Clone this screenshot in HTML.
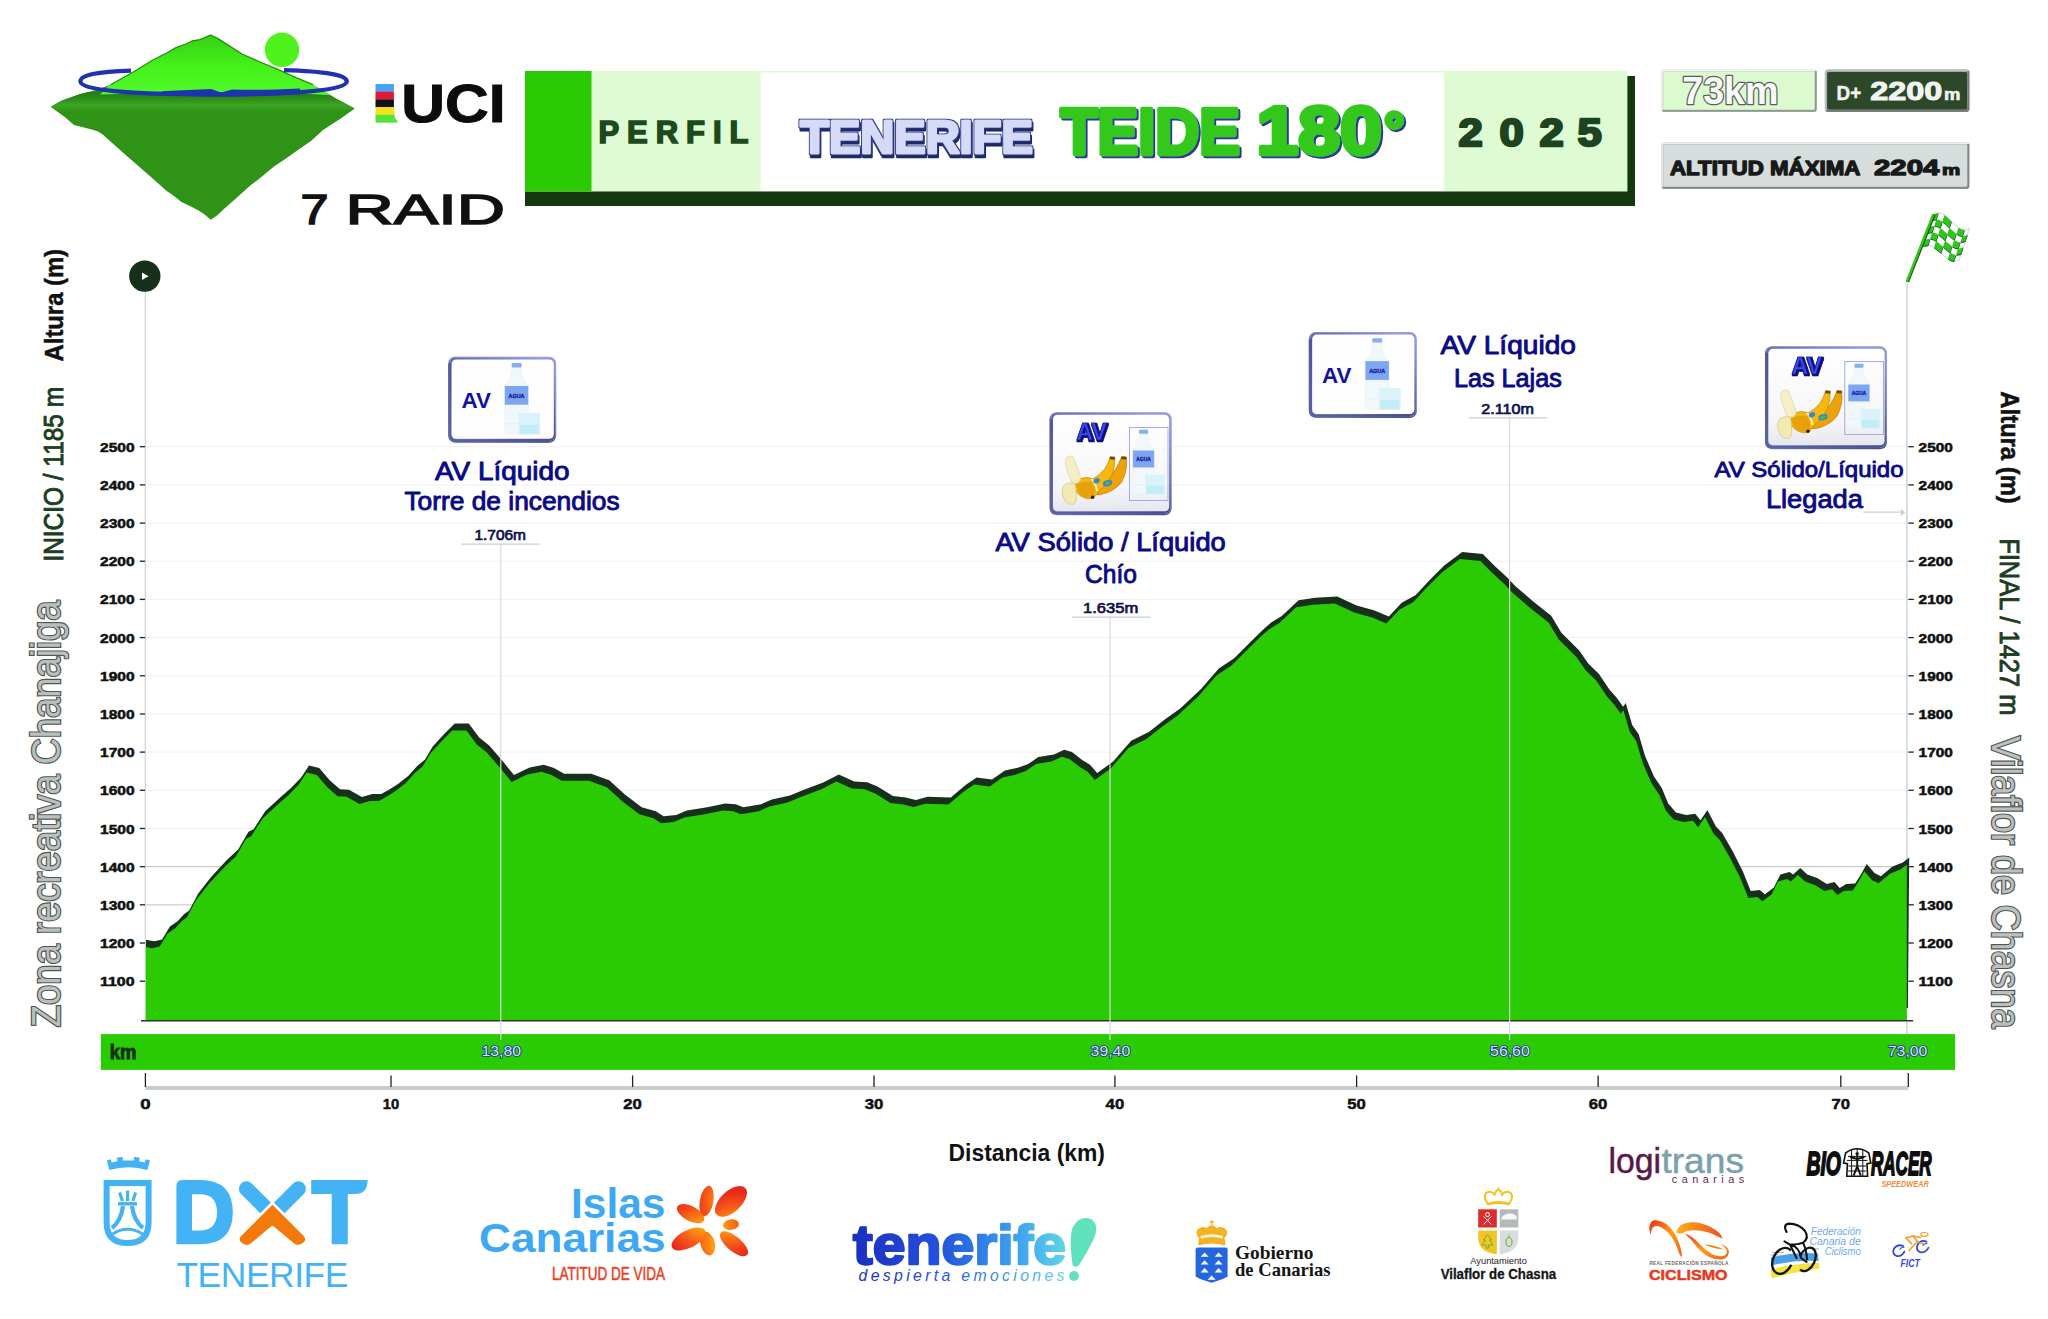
<!DOCTYPE html>
<html lang="es"><head><meta charset="utf-8"><title>Perfil Tenerife Teide 180 2025</title>
<style>
html,body{margin:0;padding:0;background:#fff;}
body{width:2048px;height:1319px;overflow:hidden;font-family:"Liberation Sans","DejaVu Sans",sans-serif;}
svg{display:block}
text{font-family:"Liberation Sans","DejaVu Sans",sans-serif;}
.ax{font-size:13.6px;font-weight:700;fill:#111;stroke:#111;stroke-width:.55px;}
.ax2{font-size:15.4px;font-weight:700;fill:#111;stroke:#111;stroke-width:.5px;}
.km{font-size:19.4px;font-weight:700;fill:#17301a;stroke:#17301a;stroke-width:.9px;}
.kmv{font-size:14px;font-weight:400;fill:#cfe2fb;stroke:#1f3a86;stroke-width:1.7px;paint-order:stroke fill;stroke-linejoin:round;}
.dist{font-size:23px;font-weight:700;fill:#111;}
.lab{font-size:25.2px;font-weight:400;fill:#0a0a84;stroke:#0a0a84;stroke-width:.9px;stroke-linejoin:round;}
.alt{font-size:14.9px;font-weight:400;fill:#10104e;stroke:#10104e;stroke-width:.7px;}
.perfil{font-size:31px;font-weight:700;fill:#1c4a1e;stroke:#1c4a1e;stroke-width:1.6px;}
.tfe text{font-size:46px;font-weight:700;}
.teide text{font-size:65px;font-weight:700;}
.y2025{font-size:38.6px;font-weight:700;fill:#1d4420;stroke:#1d4420;stroke-width:2.4px;stroke-linejoin:round;}
.b73{font-size:39px;font-weight:700;fill:#f7f9f6;stroke:#5a605c;stroke-width:2.6px;paint-order:stroke fill;stroke-linejoin:round;}
.bd1{font-size:21px;font-weight:700;fill:#f1f4f1;stroke:#f1f4f1;stroke-width:.5px;}
.bd2{font-size:25.6px;font-weight:700;fill:#f1f4f1;stroke:#f1f4f1;stroke-width:1px;}
.bd3{font-size:15.6px;font-weight:700;fill:#f1f4f1;stroke:#f1f4f1;stroke-width:.6px;}
.alm{font-size:20.2px;font-weight:700;fill:#181a19;stroke:#181a19;stroke-width:1.3px;stroke-linejoin:round;}
.alm2{font-size:22.8px;font-weight:700;fill:#181a19;stroke:#181a19;stroke-width:1.3px;stroke-linejoin:round;}
.alm3{font-size:15px;font-weight:700;fill:#181a19;stroke:#181a19;stroke-width:1.1px;}
.uci{font-size:53.6px;font-weight:700;fill:#0c0c0c;stroke:#0c0c0c;stroke-width:1px;}
.raid{font-size:43.4px;font-weight:400;fill:#111;stroke:#111;stroke-width:1.5px;}
.sAlt{font-size:26.2px;font-weight:700;fill:#111;stroke:#111;stroke-width:.5px;}
.sIni{font-size:27.6px;font-weight:400;fill:#1d3d1f;stroke:#1d3d1f;stroke-width:.9px;}
.sZona{font-size:39.8px;font-weight:400;fill:#b9c0be;stroke:#505654;stroke-width:2.4px;paint-order:stroke fill;}
.avflat{font-size:22.6px;font-weight:700;fill:#1212a0;}
.av3d{font-size:24.5px;font-weight:700;}
.gob{font-family:"Liberation Serif","DejaVu Serif",serif;font-size:17.8px;font-weight:700;fill:#151515;}
.bior{font-size:32.5px;font-weight:700;font-style:italic;fill:#0e0e0e;stroke:#0e0e0e;stroke-width:1.8px;}
.fcc{font-size:10.6px;font-style:italic;fill:#6fa8ee;}
</style></head><body>
<svg width="2048" height="1319" viewBox="0 0 2048 1319">
<rect width="2048" height="1319" fill="#fff"/>
<g id="chart">
<line x1="146" x2="1908" y1="981.2" y2="981.2" stroke="#efefef" stroke-width="1"/>
<line x1="146" x2="1908" y1="943.0" y2="943.0" stroke="#efefef" stroke-width="1"/>
<line x1="146" x2="1908" y1="904.8" y2="904.8" stroke="#cbcbcb" stroke-width="1.3"/>
<line x1="146" x2="1908" y1="866.7" y2="866.7" stroke="#cbcbcb" stroke-width="1.3"/>
<line x1="146" x2="1908" y1="828.5" y2="828.5" stroke="#efefef" stroke-width="1"/>
<line x1="146" x2="1908" y1="790.3" y2="790.3" stroke="#efefef" stroke-width="1"/>
<line x1="146" x2="1908" y1="752.1" y2="752.1" stroke="#efefef" stroke-width="1"/>
<line x1="146" x2="1908" y1="714.0" y2="714.0" stroke="#efefef" stroke-width="1"/>
<line x1="146" x2="1908" y1="675.8" y2="675.8" stroke="#efefef" stroke-width="1"/>
<line x1="146" x2="1908" y1="637.6" y2="637.6" stroke="#efefef" stroke-width="1"/>
<line x1="146" x2="1908" y1="599.4" y2="599.4" stroke="#efefef" stroke-width="1"/>
<line x1="146" x2="1908" y1="561.2" y2="561.2" stroke="#efefef" stroke-width="1"/>
<line x1="146" x2="1908" y1="523.1" y2="523.1" stroke="#efefef" stroke-width="1"/>
<line x1="146" x2="1908" y1="484.9" y2="484.9" stroke="#efefef" stroke-width="1"/>
<line x1="146" x2="1908" y1="446.7" y2="446.7" stroke="#efefef" stroke-width="1"/>
<line x1="145.3" x2="145.3" y1="290" y2="1021" stroke="#cdd3d2" stroke-width="1.2"/>
<line x1="1907" x2="1907" y1="282" y2="1041" stroke="#cdd3d6" stroke-width="1.5"/>
<path d="M146,1021 L146.0,940.1 L147.2,940.1 L154.4,941.2 L162.1,939.5 L169.9,926.5 L177.6,921.2 L184.0,914.2 L189.2,910.5 L198.2,893.5 L211.1,876.9 L226.6,860.2 L238.2,849.5 L248.5,831.8 L253.6,829.2 L265.2,811.2 L280.7,797.0 L291.0,788.0 L301.2,777.5 L309.0,765.5 L319.2,768.1 L329.7,780.2 L340.0,789.2 L349.0,789.8 L361.9,797.0 L372.2,793.9 L381.2,793.9 L388.9,789.8 L398.0,784.1 L408.2,775.9 L417.2,766.1 L425.0,759.5 L432.7,746.5 L445.6,732.5 L454.7,723.5 L468.8,723.5 L479.2,737.5 L489.2,745.5 L502.2,760.5 L514.0,775.1 L529.6,767.4 L543.7,764.8 L554.0,768.1 L564.2,773.8 L591.2,773.8 L609.2,780.2 L624.9,794.5 L641.7,807.2 L655.8,811.2 L663.6,816.2 L676.2,815.1 L686.8,810.5 L707.2,807.2 L725.2,803.5 L735.7,804.2 L743.2,807.2 L761.2,804.2 L771.8,799.5 L789.9,795.5 L805.2,789.2 L823.2,782.5 L838.8,774.5 L854.2,781.5 L867.2,782.2 L877.5,786.5 L892.9,796.1 L905.7,797.5 L916.0,800.1 L927.6,796.7 L950.8,797.5 L966.2,784.5 L976.6,777.4 L992.0,779.5 L1004.9,770.5 L1017.8,767.8 L1028.2,764.0 L1038.4,757.0 L1053.9,754.5 L1064.2,749.8 L1071.9,751.9 L1082.2,760.1 L1090.0,764.7 L1097.2,773.0 L1113.2,761.5 L1120.9,752.4 L1131.2,740.8 L1149.2,731.8 L1164.7,719.4 L1180.2,708.5 L1200.8,689.2 L1218.8,668.5 L1234.2,658.2 L1252.2,640.2 L1263.2,629.5 L1271.5,622.2 L1281.8,615.9 L1298.6,600.2 L1315.2,597.7 L1337.2,596.4 L1356.6,605.4 L1374.6,610.5 L1388.8,616.5 L1401.7,602.8 L1415.8,595.1 L1428.7,580.9 L1444.2,565.5 L1462.2,552.1 L1482.8,553.9 L1494.2,565.5 L1507.2,577.5 L1515.2,586.0 L1533.2,601.5 L1551.2,615.7 L1561.2,632.5 L1579.2,650.5 L1588.2,663.5 L1598.8,673.7 L1609.2,689.2 L1616.7,697.8 L1623.2,706.8 L1625.7,702.9 L1632.2,724.9 L1638.6,733.9 L1645.0,755.8 L1654.0,776.5 L1661.8,788.0 L1668.2,803.5 L1676.0,812.5 L1686.2,815.1 L1695.2,813.8 L1700.5,820.2 L1707.4,809.9 L1715.9,826.5 L1722.2,833.1 L1732.7,851.2 L1743.0,871.8 L1750.7,891.1 L1759.8,889.9 L1764.9,894.2 L1773.9,887.4 L1780.4,874.5 L1789.4,871.9 L1793.2,874.5 L1800.2,867.9 L1807.4,874.5 L1817.7,878.2 L1826.8,883.9 L1834.5,882.1 L1839.7,888.1 L1846.2,883.9 L1855.2,883.5 L1860.2,875.8 L1866.7,864.1 L1874.5,873.1 L1880.9,876.2 L1892.5,866.6 L1902.8,862.4 L1909.2,857.6 L1907.9,1008 L1907.9,1021 Z" fill="#17301a"/>
<path d="M145.8,1021 L145.8,947.1 L152.0,948.3 L159.7,946.5 L167.5,933.5 L175.2,928.2 L181.6,921.3 L186.8,917.5 L195.8,900.5 L208.7,883.9 L224.2,867.2 L235.8,856.5 L246.1,838.8 L251.2,836.2 L262.8,818.2 L278.3,804.0 L288.6,795.0 L298.8,784.5 L306.6,772.5 L316.8,775.1 L327.3,787.3 L337.6,796.3 L346.6,796.8 L359.5,804.0 L369.8,800.9 L378.8,800.9 L386.5,796.8 L395.6,791.1 L405.8,782.9 L414.8,773.1 L422.6,766.5 L430.3,753.5 L443.2,739.5 L452.3,730.5 L466.4,730.5 L476.8,744.5 L486.8,752.5 L499.8,767.5 L511.6,782.1 L527.2,774.4 L541.3,771.8 L551.6,775.1 L561.8,780.8 L588.8,780.8 L606.8,787.3 L622.5,801.5 L639.3,814.3 L653.4,818.2 L661.2,823.3 L673.8,822.1 L684.4,817.5 L704.8,814.3 L722.8,810.5 L733.3,811.2 L740.8,814.3 L758.8,811.2 L769.4,806.5 L787.5,802.5 L802.8,796.3 L820.8,789.5 L836.4,781.5 L851.8,788.5 L864.8,789.3 L875.1,793.5 L890.5,803.1 L903.3,804.5 L913.6,807.1 L925.2,803.8 L948.4,804.5 L963.8,791.5 L974.2,784.4 L989.6,786.5 L1002.5,777.5 L1015.4,774.8 L1025.8,771.0 L1036.0,764.0 L1051.5,761.5 L1061.8,756.8 L1069.5,758.9 L1079.8,767.1 L1087.6,771.8 L1094.8,780.0 L1110.8,768.5 L1118.5,759.4 L1128.8,747.8 L1146.8,738.8 L1162.3,726.4 L1177.8,715.5 L1198.4,696.2 L1216.4,675.5 L1231.8,665.3 L1249.8,647.3 L1260.8,636.5 L1269.1,629.2 L1279.4,622.9 L1296.2,607.3 L1312.8,604.8 L1334.8,603.4 L1354.2,612.4 L1372.2,617.5 L1386.4,623.5 L1399.3,609.8 L1413.4,602.1 L1426.3,587.9 L1441.8,572.5 L1459.8,559.1 L1480.4,560.9 L1491.8,572.5 L1504.8,584.5 L1512.8,593.0 L1530.8,608.5 L1548.8,622.8 L1558.8,639.5 L1576.8,657.5 L1585.8,670.5 L1596.4,680.8 L1606.8,696.2 L1614.3,704.8 L1620.8,713.8 L1623.3,709.9 L1629.8,731.9 L1636.2,740.9 L1642.6,762.8 L1651.6,783.5 L1659.4,795.0 L1665.8,810.5 L1673.6,819.5 L1683.8,822.1 L1692.8,820.8 L1698.1,827.2 L1705.0,816.9 L1713.5,833.5 L1719.8,840.1 L1730.3,858.2 L1740.6,878.8 L1748.3,898.1 L1757.4,896.9 L1762.5,901.3 L1771.5,894.4 L1778.0,881.5 L1787.0,878.9 L1790.8,881.5 L1797.8,874.9 L1805.0,881.5 L1815.3,885.3 L1824.4,890.9 L1832.1,889.2 L1837.3,895.1 L1843.8,890.9 L1852.8,890.5 L1857.8,882.8 L1864.3,871.2 L1872.1,880.2 L1878.5,883.3 L1890.1,873.7 L1900.4,869.4 L1906.8,864.7 L1906.8,1021 Z" fill="#2bcb04"/>
<rect x="1906.8" y="1008" width="2" height="14" fill="#fff"/>
<line x1="141" x2="1913" y1="1020.8" y2="1020.8" stroke="#2a352c" stroke-width="1.4"/>
<line x1="139.8" x2="145" y1="981.2" y2="981.2" stroke="#222" stroke-width="1.3"/>
<line x1="1908.4" x2="1913.8" y1="981.2" y2="981.2" stroke="#222" stroke-width="1.3"/>
<text x="134.6" y="986.2" text-anchor="end" class="ax" textLength="34.6" lengthAdjust="spacingAndGlyphs">1100</text>
<text x="1918.6" y="986.2" class="ax" textLength="34.2" lengthAdjust="spacingAndGlyphs">1100</text>
<line x1="139.8" x2="145" y1="943.0" y2="943.0" stroke="#222" stroke-width="1.3"/>
<line x1="1908.4" x2="1913.8" y1="943.0" y2="943.0" stroke="#222" stroke-width="1.3"/>
<text x="134.6" y="948.0" text-anchor="end" class="ax" textLength="34.6" lengthAdjust="spacingAndGlyphs">1200</text>
<text x="1918.6" y="948.0" class="ax" textLength="34.2" lengthAdjust="spacingAndGlyphs">1200</text>
<line x1="139.8" x2="145" y1="904.8" y2="904.8" stroke="#222" stroke-width="1.3"/>
<line x1="1908.4" x2="1913.8" y1="904.8" y2="904.8" stroke="#222" stroke-width="1.3"/>
<text x="134.6" y="909.8" text-anchor="end" class="ax" textLength="34.6" lengthAdjust="spacingAndGlyphs">1300</text>
<text x="1918.6" y="909.8" class="ax" textLength="34.2" lengthAdjust="spacingAndGlyphs">1300</text>
<line x1="139.8" x2="145" y1="866.7" y2="866.7" stroke="#222" stroke-width="1.3"/>
<line x1="1908.4" x2="1913.8" y1="866.7" y2="866.7" stroke="#222" stroke-width="1.3"/>
<text x="134.6" y="871.7" text-anchor="end" class="ax" textLength="34.6" lengthAdjust="spacingAndGlyphs">1400</text>
<text x="1918.6" y="871.7" class="ax" textLength="34.2" lengthAdjust="spacingAndGlyphs">1400</text>
<line x1="139.8" x2="145" y1="828.5" y2="828.5" stroke="#222" stroke-width="1.3"/>
<line x1="1908.4" x2="1913.8" y1="828.5" y2="828.5" stroke="#222" stroke-width="1.3"/>
<text x="134.6" y="833.5" text-anchor="end" class="ax" textLength="34.6" lengthAdjust="spacingAndGlyphs">1500</text>
<text x="1918.6" y="833.5" class="ax" textLength="34.2" lengthAdjust="spacingAndGlyphs">1500</text>
<line x1="139.8" x2="145" y1="790.3" y2="790.3" stroke="#222" stroke-width="1.3"/>
<line x1="1908.4" x2="1913.8" y1="790.3" y2="790.3" stroke="#222" stroke-width="1.3"/>
<text x="134.6" y="795.3" text-anchor="end" class="ax" textLength="34.6" lengthAdjust="spacingAndGlyphs">1600</text>
<text x="1918.6" y="795.3" class="ax" textLength="34.2" lengthAdjust="spacingAndGlyphs">1600</text>
<line x1="139.8" x2="145" y1="752.1" y2="752.1" stroke="#222" stroke-width="1.3"/>
<line x1="1908.4" x2="1913.8" y1="752.1" y2="752.1" stroke="#222" stroke-width="1.3"/>
<text x="134.6" y="757.1" text-anchor="end" class="ax" textLength="34.6" lengthAdjust="spacingAndGlyphs">1700</text>
<text x="1918.6" y="757.1" class="ax" textLength="34.2" lengthAdjust="spacingAndGlyphs">1700</text>
<line x1="139.8" x2="145" y1="714.0" y2="714.0" stroke="#222" stroke-width="1.3"/>
<line x1="1908.4" x2="1913.8" y1="714.0" y2="714.0" stroke="#222" stroke-width="1.3"/>
<text x="134.6" y="719.0" text-anchor="end" class="ax" textLength="34.6" lengthAdjust="spacingAndGlyphs">1800</text>
<text x="1918.6" y="719.0" class="ax" textLength="34.2" lengthAdjust="spacingAndGlyphs">1800</text>
<line x1="139.8" x2="145" y1="675.8" y2="675.8" stroke="#222" stroke-width="1.3"/>
<line x1="1908.4" x2="1913.8" y1="675.8" y2="675.8" stroke="#222" stroke-width="1.3"/>
<text x="134.6" y="680.8" text-anchor="end" class="ax" textLength="34.6" lengthAdjust="spacingAndGlyphs">1900</text>
<text x="1918.6" y="680.8" class="ax" textLength="34.2" lengthAdjust="spacingAndGlyphs">1900</text>
<line x1="139.8" x2="145" y1="637.6" y2="637.6" stroke="#222" stroke-width="1.3"/>
<line x1="1908.4" x2="1913.8" y1="637.6" y2="637.6" stroke="#222" stroke-width="1.3"/>
<text x="134.6" y="642.6" text-anchor="end" class="ax" textLength="34.6" lengthAdjust="spacingAndGlyphs">2000</text>
<text x="1918.6" y="642.6" class="ax" textLength="34.2" lengthAdjust="spacingAndGlyphs">2000</text>
<line x1="139.8" x2="145" y1="599.4" y2="599.4" stroke="#222" stroke-width="1.3"/>
<line x1="1908.4" x2="1913.8" y1="599.4" y2="599.4" stroke="#222" stroke-width="1.3"/>
<text x="134.6" y="604.4" text-anchor="end" class="ax" textLength="34.6" lengthAdjust="spacingAndGlyphs">2100</text>
<text x="1918.6" y="604.4" class="ax" textLength="34.2" lengthAdjust="spacingAndGlyphs">2100</text>
<line x1="139.8" x2="145" y1="561.2" y2="561.2" stroke="#222" stroke-width="1.3"/>
<line x1="1908.4" x2="1913.8" y1="561.2" y2="561.2" stroke="#222" stroke-width="1.3"/>
<text x="134.6" y="566.2" text-anchor="end" class="ax" textLength="34.6" lengthAdjust="spacingAndGlyphs">2200</text>
<text x="1918.6" y="566.2" class="ax" textLength="34.2" lengthAdjust="spacingAndGlyphs">2200</text>
<line x1="139.8" x2="145" y1="523.1" y2="523.1" stroke="#222" stroke-width="1.3"/>
<line x1="1908.4" x2="1913.8" y1="523.1" y2="523.1" stroke="#222" stroke-width="1.3"/>
<text x="134.6" y="528.1" text-anchor="end" class="ax" textLength="34.6" lengthAdjust="spacingAndGlyphs">2300</text>
<text x="1918.6" y="528.1" class="ax" textLength="34.2" lengthAdjust="spacingAndGlyphs">2300</text>
<line x1="139.8" x2="145" y1="484.9" y2="484.9" stroke="#222" stroke-width="1.3"/>
<line x1="1908.4" x2="1913.8" y1="484.9" y2="484.9" stroke="#222" stroke-width="1.3"/>
<text x="134.6" y="489.9" text-anchor="end" class="ax" textLength="34.6" lengthAdjust="spacingAndGlyphs">2400</text>
<text x="1918.6" y="489.9" class="ax" textLength="34.2" lengthAdjust="spacingAndGlyphs">2400</text>
<line x1="139.8" x2="145" y1="446.7" y2="446.7" stroke="#222" stroke-width="1.3"/>
<line x1="1908.4" x2="1913.8" y1="446.7" y2="446.7" stroke="#222" stroke-width="1.3"/>
<text x="134.6" y="451.7" text-anchor="end" class="ax" textLength="34.6" lengthAdjust="spacingAndGlyphs">2500</text>
<text x="1918.6" y="451.7" class="ax" textLength="34.2" lengthAdjust="spacingAndGlyphs">2500</text>
</g>
<g id="band">
<rect x="100.9" y="1034.1" width="1854.2" height="35.8" fill="#2bcb04"/>
<text x="109.8" y="1059.4" class="km" textLength="26.6" lengthAdjust="spacingAndGlyphs">km</text>
<text x="501.2" y="1056.2" text-anchor="middle" class="kmv" textLength="39.6" lengthAdjust="spacingAndGlyphs">13,80</text>
<text x="1110.4" y="1056.2" text-anchor="middle" class="kmv" textLength="39.6" lengthAdjust="spacingAndGlyphs">39,40</text>
<text x="1509.9" y="1056.2" text-anchor="middle" class="kmv" textLength="39.6" lengthAdjust="spacingAndGlyphs">56,60</text>
<text x="1907.6" y="1056.2" text-anchor="middle" class="kmv" textLength="39.6" lengthAdjust="spacingAndGlyphs">73,00</text>
<rect x="145.4" y="1086.1" width="1763" height="3.8" fill="#c6cac8"/>
<line x1="145.4" x2="145.4" y1="1073" y2="1087" stroke="#222" stroke-width="1.3"/>
<text x="145.4" y="1108.6" text-anchor="middle" class="ax2" textLength="10.4" lengthAdjust="spacingAndGlyphs">0</text>
<line x1="391.0" x2="391.0" y1="1075.4" y2="1087" stroke="#222" stroke-width="1.3"/>
<text x="391.0" y="1108.6" text-anchor="middle" class="ax2" textLength="16.4" lengthAdjust="spacingAndGlyphs">10</text>
<line x1="632.6" x2="632.6" y1="1075.4" y2="1087" stroke="#222" stroke-width="1.3"/>
<text x="632.6" y="1108.6" text-anchor="middle" class="ax2" textLength="18.6" lengthAdjust="spacingAndGlyphs">20</text>
<line x1="874.0" x2="874.0" y1="1075.4" y2="1087" stroke="#222" stroke-width="1.3"/>
<text x="874.0" y="1108.6" text-anchor="middle" class="ax2" textLength="18.6" lengthAdjust="spacingAndGlyphs">30</text>
<line x1="1114.9" x2="1114.9" y1="1075.4" y2="1087" stroke="#222" stroke-width="1.3"/>
<text x="1114.9" y="1108.6" text-anchor="middle" class="ax2" textLength="18.6" lengthAdjust="spacingAndGlyphs">40</text>
<line x1="1356.6" x2="1356.6" y1="1075.4" y2="1087" stroke="#222" stroke-width="1.3"/>
<text x="1356.6" y="1108.6" text-anchor="middle" class="ax2" textLength="18.6" lengthAdjust="spacingAndGlyphs">50</text>
<line x1="1598.1" x2="1598.1" y1="1075.4" y2="1087" stroke="#222" stroke-width="1.3"/>
<text x="1598.1" y="1108.6" text-anchor="middle" class="ax2" textLength="18.6" lengthAdjust="spacingAndGlyphs">60</text>
<line x1="1840.8" x2="1840.8" y1="1075.4" y2="1087" stroke="#222" stroke-width="1.3"/>
<text x="1840.8" y="1108.6" text-anchor="middle" class="ax2" textLength="18.6" lengthAdjust="spacingAndGlyphs">70</text>
<line x1="1908.3" x2="1908.3" y1="1073" y2="1087" stroke="#222" stroke-width="1.3"/>
<text x="1026.8" y="1161.2" text-anchor="middle" class="dist" textLength="156.4" lengthAdjust="spacingAndGlyphs">Distancia (km)</text>
</g>
<defs>
<filter id="f3dT" x="-5%" y="-20%" width="110%" height="150%"><feMorphology in="SourceAlpha" operator="dilate" radius="1" result="d"/><feFlood flood-color="#2f3c94"/><feComposite in2="d" operator="in" result="ol"/><feOffset in="d" dx="1.4" dy="3.1" result="o"/><feFlood flood-color="#1f2a66"/><feComposite in2="o" operator="in" result="sh"/><feMerge><feMergeNode in="sh"/><feMergeNode in="ol"/><feMergeNode in="SourceGraphic"/></feMerge></filter>
<filter id="fShT" x="-5%" y="-20%" width="110%" height="150%"><feOffset in="SourceAlpha" dx="1.6" dy="2.2" result="o"/><feFlood flood-color="#2b3a8c"/><feComposite in2="o" operator="in" result="sh"/><feMerge><feMergeNode in="sh"/><feMergeNode in="SourceGraphic"/></feMerge></filter>
<filter id="fAV" x="-10%" y="-20%" width="125%" height="150%"><feMorphology in="SourceAlpha" operator="dilate" radius=".7" result="d"/><feOffset in="d" dx=".6" dy=".8" result="o"/><feFlood flood-color="#080870"/><feComposite in2="o" operator="in" result="sh"/><feMerge><feMergeNode in="sh"/><feMergeNode in="SourceGraphic"/></feMerge></filter>
<linearGradient id="gLG" x1="0" y1="0" x2="0" y2="1"><stop offset="0" stop-color="#f0fde9"/><stop offset=".6" stop-color="#dbf8cf"/><stop offset="1" stop-color="#cfeec3"/></linearGradient>
<linearGradient id="gGR" x1="0" y1="0" x2="0" y2="1"><stop offset="0" stop-color="#eef0ef"/><stop offset=".5" stop-color="#d9dcdb"/><stop offset="1" stop-color="#c6cac9"/></linearGradient>
<linearGradient id="gMT" x1="0" y1="0" x2="0" y2="1"><stop offset="0" stop-color="#35d012"/><stop offset=".55" stop-color="#45f21a"/><stop offset="1" stop-color="#52fb2a"/></linearGradient>
<linearGradient id="gBandDk" x1="0" y1="0" x2="0" y2="1"><stop offset="0" stop-color="#237c10"/><stop offset=".3" stop-color="#2a8a14"/><stop offset=".65" stop-color="#3ba524"/><stop offset="1" stop-color="#2f9318"/></linearGradient>
<linearGradient id="gFrame" x1="0" y1="0" x2="1" y2="1"><stop offset="0" stop-color="#5c64a8"/><stop offset=".42" stop-color="#8f96de"/><stop offset=".58" stop-color="#8a90d8"/><stop offset="1" stop-color="#41488a"/></linearGradient>
<linearGradient id="gBox" x1="0" y1="0" x2="0" y2="1"><stop offset="0" stop-color="#ffffff"/><stop offset=".75" stop-color="#f6f6f9"/><stop offset="1" stop-color="#e6e7ee"/></linearGradient>
<radialGradient id="gFlower" cx=".45" cy=".55" r=".6"><stop offset="0" stop-color="#ffd21f"/><stop offset=".45" stop-color="#ff8a10"/><stop offset="1" stop-color="#ef2b1a"/></radialGradient>
<linearGradient id="gRFEC" x1="0" y1="0" x2="1" y2="1"><stop offset="0" stop-color="#ef2b1a"/><stop offset=".5" stop-color="#ff9a14"/><stop offset="1" stop-color="#f0641a"/></linearGradient>
<radialGradient id="gPetal" gradientUnits="userSpaceOnUse" cx="712" cy="1227" r="42"><stop offset="0" stop-color="#ffd21a"/><stop offset=".3" stop-color="#ff9a10"/><stop offset=".7" stop-color="#f5501a"/><stop offset="1" stop-color="#e8281a"/></radialGradient>
<linearGradient id="gRFEC2" x1="0" y1="0" x2="1" y2="0"><stop offset="0" stop-color="#ffae1a"/><stop offset="1" stop-color="#f0501a"/></linearGradient>
<linearGradient id="gTfe" gradientUnits="userSpaceOnUse" x1="853" y1="0" x2="1068" y2="0"><stop offset="0" stop-color="#1a2ec2"/><stop offset=".4" stop-color="#2452da"/><stop offset=".6" stop-color="#2f7fe6"/><stop offset=".82" stop-color="#45aef0"/><stop offset="1" stop-color="#62d8e4"/></linearGradient>
</defs>
<g id="header">
<path d="M525,191 H1627 V76 H1635 V206 H525 Z" fill="#14390f"/>
<rect x="525" y="71" width="1102.4" height="120.5" fill="#dffbd3"/>
<rect x="525" y="71" width="66.5" height="120.5" fill="#2bcb04"/>
<rect x="760.6" y="72.5" width="683.2" height="118.4" fill="#ffffff"/>
<text x="598.4" y="143.2" class="perfil" textLength="150" lengthAdjust="spacing">PERFIL</text>
<g class="tfe">
<text x="800.2" y="153.3" textLength="232.6" lengthAdjust="spacingAndGlyphs" fill="#d5daf6" stroke="#d5daf6" stroke-width="2.6" stroke-linejoin="round" filter="url(#f3dT)">TENERIFE</text>
</g>
<g class="teide" filter="url(#fShT)">
<text x="1060.4" y="153.7" textLength="179.4" lengthAdjust="spacingAndGlyphs" fill="#36c81c" stroke="#36c81c" stroke-width="4.4" stroke-linejoin="round">TEIDE</text>
<text x="1256.4" y="153.7" textLength="125.6" lengthAdjust="spacingAndGlyphs" fill="#36c81c" stroke="#36c81c" stroke-width="4.4" stroke-linejoin="round" style="font-size:69.4px">180</text>
<text x="1384.2" y="147.4" fill="#36c81c" stroke="#36c81c" stroke-width="4.4" stroke-linejoin="round" style="font-size:50px">°</text>
</g>
<text transform="scale(1.13 1)" x="1290.80 1327.08 1362.30 1395.93" y="146.3" class="y2025">2025</text>
<rect x="1661" y="69.4" width="155.8" height="42.5" rx="3.4" fill="#c3cec0"/>
<path d="M1662,110.4 V72.4 Q1662,70.4 1664,70.4 H1815.3" fill="none" stroke="#f0f3ee" stroke-width="1.6"/>
<path d="M1662.5,110.9 H1813.8 Q1815.8,110.9 1815.8,108.9 V70.9" fill="none" stroke="#8f998f" stroke-width="1.8"/>
<rect x="1663.4" y="71.80000000000001" width="151.0" height="37.7" rx="1.6" fill="#dcfad0"/>
<text x="1682.2" y="104" class="b73" textLength="96.4" lengthAdjust="spacingAndGlyphs">73km</text>
<rect x="1824.8" y="69.6" width="144.6" height="42.3" rx="3.4" fill="#8c9693"/>
<path d="M1825.8,110.39999999999999 V72.6 Q1825.8,70.6 1827.8,70.6 H1967.8999999999999" fill="none" stroke="#b9c1be" stroke-width="1.6"/>
<path d="M1826.3,110.89999999999999 H1966.3999999999999 Q1968.3999999999999,110.89999999999999 1968.3999999999999,108.89999999999999 V71.1" fill="none" stroke="#6f7a76" stroke-width="1.8"/>
<rect x="1827.2" y="72.0" width="139.79999999999998" height="37.5" rx="1.6" fill="#2c4829"/>
<text x="1836.6" y="100.3" class="bd1" textLength="24.6" lengthAdjust="spacingAndGlyphs">D+</text>
<text x="1870.2" y="100.1" class="bd2" textLength="72" lengthAdjust="spacingAndGlyphs">2200</text>
<text x="1944" y="100.3" class="bd3" textLength="16.4" lengthAdjust="spacingAndGlyphs">m</text>
<rect x="1661" y="142.5" width="308.4" height="46.4" rx="3.4" fill="#b3bbb9"/>
<path d="M1662,187.4 V145.5 Q1662,143.5 1664,143.5 H1967.9" fill="none" stroke="#eef1f0" stroke-width="1.6"/>
<path d="M1662.5,187.9 H1966.4 Q1968.4,187.9 1968.4,185.9 V144.0" fill="none" stroke="#7f8886" stroke-width="1.8"/>
<rect x="1663.4" y="144.9" width="303.59999999999997" height="41.6" rx="1.6" fill="#d6dddc"/>
<text x="1670" y="175.1" class="alm" textLength="190.4" lengthAdjust="spacingAndGlyphs">ALTITUD MÁXIMA</text>
<text x="1874" y="175.3" class="alm2" textLength="65.4" lengthAdjust="spacingAndGlyphs">2204</text>
<text x="1942" y="175.2" class="alm3" textLength="18.2" lengthAdjust="spacingAndGlyphs">m</text>
</g>
<g id="logo7raid">
<path d="M50.8,106.7 L62,100.5 L78.8,94.5 L96,90 L110.6,84.7 L135,71 L152,60.5 L166.7,53 L176,47.6 L186,44 L192,41 L200,39.6 L210.7,35.1 L218,38.6 L242,54 L260,62 L276.6,68.8 L296,77.6 L313,84.7 L335,98 L354.7,108.4 L340,119 L323,130 L311,141 L298.6,149.4 L286,158.6 L274,166.5 L262,176.6 L249.7,186 L237,197.6 L225,208 L217,215.6 L210.7,219.7 L204,214 L198.5,210.4 L190,206 L181.4,202 L174,196 L166.7,191 L147,173.6 L127.7,156.7 L115,145.6 L103,134.7 L98,131.6 L93.5,130 L84,127.6 L74,125 L66,118 L58,112 Z" fill="#2f9318"/>
<clipPath id="cpIsl"><path d="M50.8,106.7 L62,100.5 L78.8,94.5 L96,90 L110.6,84.7 L135,71 L152,60.5 L166.7,53 L176,47.6 L186,44 L192,41 L200,39.6 L210.7,35.1 L218,38.6 L242,54 L260,62 L276.6,68.8 L296,77.6 L313,84.7 L335,98 L354.7,108.4 L340,119 L323,130 L311,141 L298.6,149.4 L286,158.6 L274,166.5 L262,176.6 L249.7,186 L237,197.6 L225,208 L217,215.6 L210.7,219.7 L204,214 L198.5,210.4 L190,206 L181.4,202 L174,196 L166.7,191 L147,173.6 L127.7,156.7 L115,145.6 L103,134.7 L98,131.6 L93.5,130 L84,127.6 L74,125 L66,118 L58,112 Z"/></clipPath>
<g clip-path="url(#cpIsl)">
<rect x="40" y="92" width="330" height="20" fill="url(#gBandDk)"/>
<path d="M100,94.6 L110.6,84 L135,70 L166.7,52 L186,43 L210.7,34 L242,53 L276.6,67.8 L313,83.7 L336,95.4 L300,93.6 L240,92.6 L160,93 Z" fill="url(#gMT)"/>
</g>
<path d="M110.6,84.7 L135,71 L152,60.5 L166.7,53 L176,47.6 L186,44 L192,41 L200,39.6 L210.7,35.1 L218,38.6 L242,54 L260,62 L276.6,68.8 L296,77.6 L313,84.7" fill="none" stroke="#2c8c14" stroke-width="1.3" stroke-linejoin="round"/>
<path d="M131,70.6 Q80,72 80.4,81.5 Q82,94.4 213.6,94.4 Q345,94.4 346.8,81.5 Q347,72 284,70.2" fill="none" stroke="#1f32b0" stroke-width="4.2" stroke-linecap="butt"/>
<path d="M163,91.2 Q190,90 211,89 L221,92.4 L232,89.4 Q262,90.4 300,88.4 L300,94 Q262,96.4 213.6,96.4 Q190,96.4 160,94.6 Z" fill="#1f32b0"/>
<circle cx="282" cy="49.8" r="17.2" fill="#4ff21c"/>
<rect x="375.5" y="84.0" width="18.4" height="7.9" fill="#48a2f2"/>
<rect x="375.5" y="91.7" width="18.4" height="7.9" fill="#e2183a"/>
<rect x="375.5" y="99.4" width="18.4" height="7.9" fill="#121212"/>
<rect x="375.5" y="107.1" width="18.4" height="7.9" fill="#f7e21b"/>
<rect x="375.5" y="114.8" width="18.4" height="7.9" fill="#55e23c"/>
<path d="M393.8,110 Q394,119 398.6,122.5 L393.8,122.5 Z" fill="#55e23c"/>
<path d="M393.8,107 L394.6,114.8 L393.8,114.8 Z" fill="#f7e21b"/>
<text x="401.2" y="122.4" class="uci" textLength="104.4" lengthAdjust="spacingAndGlyphs">UCI</text>
<text x="300.5" y="224.4" class="raid" textLength="28" lengthAdjust="spacingAndGlyphs">7</text>
<text x="345.4" y="224.4" class="raid" textLength="159.6" lengthAdjust="spacingAndGlyphs">RAID</text>
</g>
<g id="side">
<text transform="translate(63,361.4) rotate(-90)" class="sAlt" textLength="112.4" lengthAdjust="spacingAndGlyphs">Altura (m)</text>
<text transform="translate(62.5,561.6) rotate(-90)" class="sIni" textLength="174.6" lengthAdjust="spacingAndGlyphs">INICIO / 1185 m</text>
<text transform="translate(59.5,1027.2) rotate(-90)" class="sZona" textLength="426.6" lengthAdjust="spacingAndGlyphs">Zona recreativa Chanajiga</text>
<text transform="translate(2000.8,391.2) rotate(90)" class="sAlt" textLength="112.6" lengthAdjust="spacingAndGlyphs">Altura (m)</text>
<text transform="translate(2000.1,538.2) rotate(90)" class="sIni" textLength="177.2" lengthAdjust="spacingAndGlyphs">FINAL / 1427 m</text>
<text transform="translate(1991.8,736) rotate(90)" class="sZona" textLength="292.4" lengthAdjust="spacingAndGlyphs">Vilaflor de Chasna</text>
</g>
<g id="markers">
<circle cx="144.8" cy="276.1" r="15.7" fill="#17301a"/>
<path d="M142,272.6 L148.6,276.3 L142,280 Z" fill="#fff"/>
<g id="flag">
<polygon points="1933.4,214.6 1934.6,214.0 1935.8,213.4 1937.1,213.0 1938.4,212.9 1939.8,213.0 1941.3,213.4 1942.8,214.1 1944.5,215.1 1946.2,216.4 1947.9,218.0 1949.7,219.6 1951.5,221.4 1953.3,223.2 1955.1,224.8 1956.8,226.4 1958.5,227.7 1960.2,228.7 1961.7,229.4 1963.2,229.8 1964.6,229.9 1965.9,229.8 1967.2,229.4 1968.4,228.8 1969.6,228.2 1969.6,228.2 1969.2,229.5 1968.7,230.8 1968.3,232.2 1967.8,233.5 1967.4,234.8 1966.9,236.1 1966.5,237.5 1966.1,238.8 1965.6,240.1 1965.2,241.4 1964.7,242.8 1964.3,244.1 1963.9,245.4 1963.4,246.8 1963.0,248.1 1962.5,249.4 1962.1,250.7 1961.6,252.1 1961.2,253.4 1960.8,254.7 1960.3,256.0 1959.9,257.4 1959.4,258.7 1959.0,260.0 1959.0,260.0 1957.7,260.4 1956.5,260.8 1955.2,261.1 1953.8,261.1 1952.4,260.9 1950.9,260.5 1949.4,259.8 1947.8,258.9 1946.1,257.7 1944.4,256.3 1942.7,254.8 1940.9,253.2 1939.1,251.6 1937.4,250.1 1935.7,248.7 1934.0,247.5 1932.4,246.6 1930.9,245.9 1929.4,245.5 1928.0,245.3 1926.6,245.3 1925.3,245.6 1924.1,246.0 1922.8,246.4 1922.8,246.4 1923.2,245.1 1923.7,243.8 1924.1,242.4 1924.6,241.1 1925.0,239.8 1925.5,238.4 1925.9,237.1 1926.3,235.8 1926.8,234.5 1927.2,233.2 1927.7,231.8 1928.1,230.5 1928.5,229.2 1929.0,227.8 1929.4,226.5 1929.9,225.2 1930.3,223.9 1930.8,222.6 1931.2,221.2 1931.6,219.9 1932.1,218.6 1932.5,217.2 1933.0,215.9 1933.4,214.6" fill="#ffffff" stroke="#aab0c4" stroke-width=".6"/>
<polygon points="1933.7,215.5 1936.1,214.3 1938.7,213.8 1936.6,220.3 1934.0,220.8 1931.6,221.9" fill="#1c3a4a"/>
<polygon points="1933.4,214.6 1935.8,213.4 1938.4,212.9 1936.3,219.4 1933.7,219.9 1931.3,221.0" fill="#2fc715"/>
<polygon points="1944.8,216.0 1948.2,218.9 1951.8,222.3 1949.7,228.7 1946.1,225.3 1942.7,222.5" fill="#1c3a4a"/>
<polygon points="1944.5,215.1 1947.9,218.0 1951.5,221.4 1949.4,227.8 1945.8,224.4 1942.4,221.6" fill="#2fc715"/>
<polygon points="1958.8,228.6 1962.0,230.3 1964.9,230.8 1962.7,237.1 1959.8,236.5 1956.7,234.8" fill="#1c3a4a"/>
<polygon points="1958.5,227.7 1961.7,229.4 1964.6,229.9 1962.4,236.2 1959.5,235.6 1956.4,233.9" fill="#2fc715"/>
<polygon points="1936.6,220.3 1939.5,220.8 1942.7,222.5 1940.6,229.0 1937.4,227.3 1934.6,226.7" fill="#1c3a4a"/>
<polygon points="1936.3,219.4 1939.2,219.9 1942.4,221.6 1940.3,228.1 1937.1,226.4 1934.3,225.8" fill="#2fc715"/>
<polygon points="1949.7,228.7 1953.3,232.0 1956.7,234.8 1954.5,241.0 1951.1,238.3 1947.6,235.0" fill="#1c3a4a"/>
<polygon points="1949.4,227.8 1953.0,231.1 1956.4,233.9 1954.2,240.1 1950.8,237.4 1947.3,234.1" fill="#2fc715"/>
<polygon points="1962.7,237.1 1965.3,236.6 1967.8,235.5 1965.7,241.8 1963.2,242.8 1960.6,243.3" fill="#1c3a4a"/>
<polygon points="1962.4,236.2 1965.0,235.7 1967.5,234.6 1965.4,240.9 1962.9,241.9 1960.3,242.4" fill="#2fc715"/>
<polygon points="1929.5,228.2 1931.9,227.2 1934.6,226.7 1932.5,233.2 1929.8,233.6 1927.3,234.6" fill="#1c3a4a"/>
<polygon points="1929.2,227.3 1931.6,226.3 1934.3,225.8 1932.2,232.3 1929.5,232.7 1927.0,233.7" fill="#2fc715"/>
<polygon points="1940.6,229.0 1944.0,231.7 1947.6,235.0 1945.4,241.4 1941.9,238.2 1938.5,235.5" fill="#1c3a4a"/>
<polygon points="1940.3,228.1 1943.7,230.8 1947.3,234.1 1945.1,240.5 1941.6,237.3 1938.2,234.6" fill="#2fc715"/>
<polygon points="1954.5,241.0 1957.7,242.7 1960.6,243.3 1958.4,249.5 1955.5,249.0 1952.4,247.3" fill="#1c3a4a"/>
<polygon points="1954.2,240.1 1957.4,241.8 1960.3,242.4 1958.1,248.6 1955.2,248.1 1952.1,246.4" fill="#2fc715"/>
<polygon points="1932.5,233.2 1935.3,233.8 1938.5,235.5 1936.4,242.0 1933.3,240.3 1930.4,239.7" fill="#1c3a4a"/>
<polygon points="1932.2,232.3 1935.0,232.9 1938.2,234.6 1936.1,241.1 1933.0,239.4 1930.1,238.8" fill="#2fc715"/>
<polygon points="1945.4,241.4 1949.0,244.6 1952.4,247.3 1950.2,253.5 1946.8,250.9 1943.3,247.7" fill="#1c3a4a"/>
<polygon points="1945.1,240.5 1948.7,243.7 1952.1,246.4 1949.9,252.6 1946.5,250.0 1943.0,246.8" fill="#2fc715"/>
<polygon points="1958.4,249.5 1961.0,249.1 1963.5,248.2 1961.4,254.5 1958.9,255.4 1956.3,255.8" fill="#1c3a4a"/>
<polygon points="1958.1,248.6 1960.7,248.2 1963.2,247.3 1961.1,253.6 1958.6,254.5 1956.0,254.9" fill="#2fc715"/>
<polygon points="1925.2,240.9 1927.7,240.0 1930.4,239.7 1928.3,246.2 1925.6,246.5 1923.1,247.3" fill="#1c3a4a"/>
<polygon points="1924.9,240.0 1927.4,239.1 1930.1,238.8 1928.0,245.3 1925.3,245.6 1922.8,246.4" fill="#2fc715"/>
<polygon points="1936.4,242.0 1939.8,244.6 1943.3,247.7 1941.2,254.1 1937.7,251.0 1934.3,248.4" fill="#1c3a4a"/>
<polygon points="1936.1,241.1 1939.5,243.7 1943.0,246.8 1940.9,253.2 1937.4,250.1 1934.0,247.5" fill="#2fc715"/>
<polygon points="1950.2,253.5 1953.4,255.2 1956.3,255.8 1954.1,262.0 1951.2,261.4 1948.1,259.8" fill="#1c3a4a"/>
<polygon points="1949.9,252.6 1953.1,254.3 1956.0,254.9 1953.8,261.1 1950.9,260.5 1947.8,258.9" fill="#2fc715"/>
<path d="M1907.6,282 L1934.2,214.6" stroke="#1d4a22" stroke-width="2.9" fill="none"/>
<path d="M1906.8,281.8 L1933.4,214.2" stroke="#2fc715" stroke-width="2.5" fill="none"/>
</g>
</g>
<g id="feeds">
<line x1="500.8" x2="500.8" y1="544.2" y2="1040" stroke="#d9dcdb" stroke-width="1.2"/>
<line x1="461.4" x2="539.6" y1="544.2" y2="544.2" stroke="#c9cfd0" stroke-width="1.2"/>
<text x="502.3" y="479.9" text-anchor="middle" class="lab" textLength="134.6" lengthAdjust="spacingAndGlyphs">AV Líquido</text>
<text x="512" y="510.4" text-anchor="middle" class="lab" textLength="215.2" lengthAdjust="spacingAndGlyphs">Torre de incendios</text>
<text x="500.2" y="539.7" text-anchor="middle" class="alt" textLength="51.6" lengthAdjust="spacingAndGlyphs">1.706m</text>
<line x1="1110" x2="1110" y1="617.1" y2="1040" stroke="#d9dcdb" stroke-width="1.2"/>
<line x1="1072" x2="1150.2" y1="617.1" y2="617.1" stroke="#c9cfd0" stroke-width="1.2"/>
<text x="1110.6" y="550.5" text-anchor="middle" class="lab" textLength="230.4" lengthAdjust="spacingAndGlyphs">AV Sólido / Líquido</text>
<text x="1111" y="582.8" text-anchor="middle" class="lab" textLength="51.8" lengthAdjust="spacingAndGlyphs">Chío</text>
<text x="1110.6" y="613.3" text-anchor="middle" class="alt" textLength="55.2" lengthAdjust="spacingAndGlyphs">1.635m</text>
<line x1="1509.6" x2="1509.6" y1="417.9" y2="1040" stroke="#d9dcdb" stroke-width="1.2"/>
<line x1="1468.8" x2="1547" y1="417.9" y2="417.9" stroke="#c9cfd0" stroke-width="1.2"/>
<text x="1508.2" y="354.2" text-anchor="middle" class="lab" textLength="135.4" lengthAdjust="spacingAndGlyphs">AV Líquido</text>
<text x="1507.9" y="387.1" text-anchor="middle" class="lab" textLength="107.8" lengthAdjust="spacingAndGlyphs">Las Lajas</text>
<text x="1507.6" y="414" text-anchor="middle" class="alt" textLength="52.6" lengthAdjust="spacingAndGlyphs">2.110m</text>
<text x="1809" y="476.5" text-anchor="middle" class="lab" style="font-size:22.8px" textLength="189.2" lengthAdjust="spacingAndGlyphs">AV Sólido/Líquido</text>
<text x="1814.4" y="508.2" text-anchor="middle" class="lab" style="font-size:26.2px" textLength="97" lengthAdjust="spacingAndGlyphs">Llegada</text>
<rect x="448.2" y="356.8" width="108" height="86" rx="7" fill="url(#gFrame)"/>
<rect x="449.2" y="357.40000000000003" width="106.4" height="83.8" rx="6.4" fill="none" stroke="#aab0ee" stroke-width="1" opacity=".55"/>
<path d="M449.8,364.8 V434.8 Q449.8,440.8 456.2,440.8 H548.2" fill="none" stroke="#464d8c" stroke-width="3.2" stroke-linecap="round" opacity=".75"/>
<rect x="451.59999999999997" y="359.40000000000003" width="102.2" height="79.4" rx="4.5" fill="#fefeff"/>
<text x="461.4" y="407.8" class="avflat" textLength="29.5" lengthAdjust="spacingAndGlyphs">AV</text>
<g transform="translate(504.8,363.1) scale(0.995)">
<path d="M7.2,4 L7.2,7 Q7,14 1.5,21 Q0,23 0,25 L0,68 Q0,71 3,71 L20.6,71 Q23.6,71 23.6,68 L23.6,25 Q23.6,23 22.1,21 Q16.6,14 16.4,7 L16.4,4 Z" fill="#f1f8fc" stroke="#e6f0f6" stroke-width=".6"/>
<rect x="6.9" y="0" width="10" height="4.3" rx=".8" fill="#86aef0"/>
<rect x="0" y="23" width="23.6" height="18.8" fill="#7ea5f0"/>
<text x="11.8" y="34.6" text-anchor="middle" font-size="6.3" font-weight="700" fill="#1a22a8" stroke="#1a22a8" stroke-width=".4" textLength="16" lengthAdjust="spacingAndGlyphs">AGUA</text>
<line x1="0.5" x2="13" y1="61" y2="61" stroke="#d6e6ee" stroke-width=".6"/>
<rect x="13.8" y="50" width="21.7" height="21.8" fill="#daf2f9"/>
<rect x="15.2" y="62" width="19" height="9.2" fill="#c2edf6"/>
</g>
<rect x="1049.6" y="412.2" width="122" height="103" rx="7" fill="url(#gFrame)"/>
<rect x="1050.6" y="412.8" width="120.4" height="100.8" rx="6.4" fill="none" stroke="#aab0ee" stroke-width="1" opacity=".55"/>
<path d="M1051.1999999999998,420.2 V507.20000000000005 Q1051.1999999999998,513.2 1057.6,513.2 H1163.6" fill="none" stroke="#464d8c" stroke-width="3.2" stroke-linecap="round" opacity=".75"/>
<rect x="1053.0" y="414.8" width="116.2" height="96.4" rx="4.5" fill="url(#gBox)"/>
<text x="1076.1999999999998" y="439.8" class="av3d" textLength="30.5" lengthAdjust="spacingAndGlyphs" fill="#3a48e8" stroke="#1218a0" stroke-width=".7" filter="url(#fAV)">AV</text>
<rect x="1129.3999999999999" y="427.4" width="38.6" height="73.2" fill="none" stroke="#9296e4" stroke-width=".8"/>
<g transform="translate(1132.8999999999999,429.8) scale(0.9)">
<path d="M7.2,4 L7.2,7 Q7,14 1.5,21 Q0,23 0,25 L0,68 Q0,71 3,71 L20.6,71 Q23.6,71 23.6,68 L23.6,25 Q23.6,23 22.1,21 Q16.6,14 16.4,7 L16.4,4 Z" fill="#f1f8fc" stroke="#e6f0f6" stroke-width=".6"/>
<rect x="6.9" y="0" width="10" height="4.3" rx=".8" fill="#86aef0"/>
<rect x="0" y="23" width="23.6" height="18.8" fill="#7ea5f0"/>
<text x="11.8" y="34.6" text-anchor="middle" font-size="6.3" font-weight="700" fill="#1a22a8" stroke="#1a22a8" stroke-width=".4" textLength="16" lengthAdjust="spacingAndGlyphs">AGUA</text>
<line x1="0.5" x2="13" y1="61" y2="61" stroke="#d6e6ee" stroke-width=".6"/>
<rect x="13.8" y="50" width="21.7" height="21.8" fill="#daf2f9"/>
<rect x="15.2" y="62" width="19" height="9.2" fill="#c2edf6"/>
</g>
<g transform="translate(1049.6,412.2) scale(1.0)">
<path d="M72,44.6 L76.6,44.8 Q78.5,58 72,70 Q64,80 50,82.5 Q44,83 40,80 Q50,76 57,68.5 Q67,58 72,44.6 Z" fill="#eda20a" stroke="#c27c06" stroke-width=".7"/>
<path d="M60.6,44.6 L65.2,45 Q65.6,54 62.6,62 Q58,72 49,79 Q46,86 40,86.6 Q30,86 26,78 Q24.5,71 30,66.8 Q36,64 43.5,66.5 Q50,63 55,57 Q59,51 60.6,44.6 Z" fill="#f6b810" stroke="#c98508" stroke-width=".7"/>
<path d="M27,72 Q34,68 42,70 Q46,76 45,84 Q40,87 33,84 Q27,80 27,72 Z" fill="#e39a08" opacity=".75"/>
<path d="M41.8,66.6 Q46,70 47.6,79" fill="none" stroke="#f8f2d2" stroke-width="1.7"/>
<path d="M60.4,44.2 L65.4,44.8 L65.2,47.6 L60.2,47 Z" fill="#6b4a12"/>
<path d="M71.8,44.2 L76.8,44.6 L76.8,47.4 L71.6,47 Z" fill="#6b4a12"/>
<ellipse cx="47" cy="68.6" rx="3.3" ry="2.4" fill="#2f8bd0" transform="rotate(-30 47 68.6)"/>
<ellipse cx="58" cy="71" rx="4.8" ry="3" fill="#2f8bd0" transform="rotate(-18 58 71)"/>
<ellipse cx="58" cy="71" rx="2.8" ry="1.5" fill="#58b83c" transform="rotate(-18 58 71)"/>
<path d="M16,47 Q18.5,42.4 23,44.4 Q26,50 28.6,58 Q31.6,64 31,68 Q27,73 22,70 Q18.6,62 16.4,55 Q15.2,50 16,47 Z" fill="#f5eec6" stroke="#d9cf96" stroke-width=".6"/>
<path d="M13,75 Q17,69 25,71 Q27,76 26.6,83 Q27.6,90 24,92 Q18,93 15,88 Q11.4,82 13,75 Z" fill="#f3e9b2" stroke="#cdbf78" stroke-width=".6"/>
<circle cx="43" cy="85" r="1.7" fill="#2a1c08"/>
</g>
<rect x="1308.8" y="332" width="108" height="86" rx="7" fill="url(#gFrame)"/>
<rect x="1309.8" y="332.6" width="106.4" height="83.8" rx="6.4" fill="none" stroke="#aab0ee" stroke-width="1" opacity=".55"/>
<path d="M1310.3999999999999,340 V410 Q1310.3999999999999,416 1316.8,416 H1408.8" fill="none" stroke="#464d8c" stroke-width="3.2" stroke-linecap="round" opacity=".75"/>
<rect x="1312.2" y="334.6" width="102.2" height="79.4" rx="4.5" fill="#fefeff"/>
<text x="1322.0" y="383" class="avflat" textLength="29.5" lengthAdjust="spacingAndGlyphs">AV</text>
<g transform="translate(1365.3999999999999,338.3) scale(0.995)">
<path d="M7.2,4 L7.2,7 Q7,14 1.5,21 Q0,23 0,25 L0,68 Q0,71 3,71 L20.6,71 Q23.6,71 23.6,68 L23.6,25 Q23.6,23 22.1,21 Q16.6,14 16.4,7 L16.4,4 Z" fill="#f1f8fc" stroke="#e6f0f6" stroke-width=".6"/>
<rect x="6.9" y="0" width="10" height="4.3" rx=".8" fill="#86aef0"/>
<rect x="0" y="23" width="23.6" height="18.8" fill="#7ea5f0"/>
<text x="11.8" y="34.6" text-anchor="middle" font-size="6.3" font-weight="700" fill="#1a22a8" stroke="#1a22a8" stroke-width=".4" textLength="16" lengthAdjust="spacingAndGlyphs">AGUA</text>
<line x1="0.5" x2="13" y1="61" y2="61" stroke="#d6e6ee" stroke-width=".6"/>
<rect x="13.8" y="50" width="21.7" height="21.8" fill="#daf2f9"/>
<rect x="15.2" y="62" width="19" height="9.2" fill="#c2edf6"/>
</g>
<rect x="1765" y="346.2" width="122" height="103" rx="7" fill="url(#gFrame)"/>
<rect x="1766" y="346.8" width="120.4" height="100.8" rx="6.4" fill="none" stroke="#aab0ee" stroke-width="1" opacity=".55"/>
<path d="M1766.6,354.2 V441.2 Q1766.6,447.2 1773,447.2 H1879" fill="none" stroke="#464d8c" stroke-width="3.2" stroke-linecap="round" opacity=".75"/>
<rect x="1768.4" y="348.8" width="116.2" height="96.4" rx="4.5" fill="url(#gBox)"/>
<text x="1791.6" y="373.8" class="av3d" textLength="30.5" lengthAdjust="spacingAndGlyphs" fill="#3a48e8" stroke="#1218a0" stroke-width=".7" filter="url(#fAV)">AV</text>
<rect x="1844.8" y="361.4" width="38.6" height="73.2" fill="none" stroke="#9296e4" stroke-width=".8"/>
<g transform="translate(1848.3,363.8) scale(0.9)">
<path d="M7.2,4 L7.2,7 Q7,14 1.5,21 Q0,23 0,25 L0,68 Q0,71 3,71 L20.6,71 Q23.6,71 23.6,68 L23.6,25 Q23.6,23 22.1,21 Q16.6,14 16.4,7 L16.4,4 Z" fill="#f1f8fc" stroke="#e6f0f6" stroke-width=".6"/>
<rect x="6.9" y="0" width="10" height="4.3" rx=".8" fill="#86aef0"/>
<rect x="0" y="23" width="23.6" height="18.8" fill="#7ea5f0"/>
<text x="11.8" y="34.6" text-anchor="middle" font-size="6.3" font-weight="700" fill="#1a22a8" stroke="#1a22a8" stroke-width=".4" textLength="16" lengthAdjust="spacingAndGlyphs">AGUA</text>
<line x1="0.5" x2="13" y1="61" y2="61" stroke="#d6e6ee" stroke-width=".6"/>
<rect x="13.8" y="50" width="21.7" height="21.8" fill="#daf2f9"/>
<rect x="15.2" y="62" width="19" height="9.2" fill="#c2edf6"/>
</g>
<g transform="translate(1765,346.2) scale(1.0)">
<path d="M72,44.6 L76.6,44.8 Q78.5,58 72,70 Q64,80 50,82.5 Q44,83 40,80 Q50,76 57,68.5 Q67,58 72,44.6 Z" fill="#eda20a" stroke="#c27c06" stroke-width=".7"/>
<path d="M60.6,44.6 L65.2,45 Q65.6,54 62.6,62 Q58,72 49,79 Q46,86 40,86.6 Q30,86 26,78 Q24.5,71 30,66.8 Q36,64 43.5,66.5 Q50,63 55,57 Q59,51 60.6,44.6 Z" fill="#f6b810" stroke="#c98508" stroke-width=".7"/>
<path d="M27,72 Q34,68 42,70 Q46,76 45,84 Q40,87 33,84 Q27,80 27,72 Z" fill="#e39a08" opacity=".75"/>
<path d="M41.8,66.6 Q46,70 47.6,79" fill="none" stroke="#f8f2d2" stroke-width="1.7"/>
<path d="M60.4,44.2 L65.4,44.8 L65.2,47.6 L60.2,47 Z" fill="#6b4a12"/>
<path d="M71.8,44.2 L76.8,44.6 L76.8,47.4 L71.6,47 Z" fill="#6b4a12"/>
<ellipse cx="47" cy="68.6" rx="3.3" ry="2.4" fill="#2f8bd0" transform="rotate(-30 47 68.6)"/>
<ellipse cx="58" cy="71" rx="4.8" ry="3" fill="#2f8bd0" transform="rotate(-18 58 71)"/>
<ellipse cx="58" cy="71" rx="2.8" ry="1.5" fill="#58b83c" transform="rotate(-18 58 71)"/>
<path d="M16,47 Q18.5,42.4 23,44.4 Q26,50 28.6,58 Q31.6,64 31,68 Q27,73 22,70 Q18.6,62 16.4,55 Q15.2,50 16,47 Z" fill="#f5eec6" stroke="#d9cf96" stroke-width=".6"/>
<path d="M13,75 Q17,69 25,71 Q27,76 26.6,83 Q27.6,90 24,92 Q18,93 15,88 Q11.4,82 13,75 Z" fill="#f3e9b2" stroke="#cdbf78" stroke-width=".6"/>
<circle cx="43" cy="85" r="1.7" fill="#2a1c08"/>
</g>
<path d="M1863.3,512.2 H1901" stroke="#ccd1d1" stroke-width="1.2" fill="none"/><path d="M1900.6,508.4 L1905.4,512.2 L1900.6,516 Z" fill="#ccd1d1"/>
</g>
<g id="logos">
<g id="dxt">
<path d="M106.8,1160.5 L110.8,1159.2 L111.6,1162.6 L117.4,1161.2 L117,1157.6 L122.6,1157 L123,1160.4 L133.6,1160.4 L134,1157 L139.6,1157.6 L139.2,1161.2 L145,1162.6 L145.8,1159.2 L150,1160.5 L147.4,1170 Q128.4,1164.6 109.4,1170 Z" fill="#43b3f5"/>
<path d="M106.6,1182.9 H148.6 V1222 Q148.6,1243 127.6,1243 Q106.6,1243 106.6,1222 Z" fill="none" stroke="#43b3f5" stroke-width="6"/>
<path d="M112,1228 Q121,1221 123,1206 M143,1228 Q134,1221 132,1206" fill="none" stroke="#43b3f5" stroke-width="4.2"/>
<path d="M118,1203.8 H137" stroke="#43b3f5" stroke-width="3.4"/>
<path d="M119.6,1192.6 L122.4,1201 M127.6,1190.4 V1201 M135.6,1192.6 L132.8,1201" stroke="#43b3f5" stroke-width="3.2"/>
<path d="M112.6,1234 Q127.6,1224.6 142.6,1234" fill="none" stroke="#43b3f5" stroke-width="3"/>
<path d="M176.4,1186 Q176.4,1180 182.4,1180 H200 Q232.8,1180 232.8,1212.2 Q232.8,1244.3 200,1244.3 H176.4 Z M192,1194.2 V1230.4 H200 Q217,1230.4 217,1212.2 Q217,1194.2 200,1194.2 Z" fill="#43b3f5" fill-rule="evenodd"/>
<path d="M246.4,1188.8 L272.4,1214.8 L298.4,1188.8" stroke="#43b3f5" stroke-width="15" stroke-linecap="round" stroke-linejoin="miter" fill="none"/>
<path d="M272.4,1202.9 L304.6,1235.1 Q308.6,1239.6 304.6,1243.2 Q298.6,1248.6 293.4,1244.6 L272.4,1227 L251.4,1244.6 Q246.2,1248.6 240.2,1243.2 Q236.2,1239.6 240.2,1235.1 Z" fill="#f5790a" stroke="#fff" stroke-width="2.6" stroke-linejoin="round"/>
<path d="M311.2,1180 H367.6 Q367.6,1194 355,1194 H347.8 V1244.3 H331.7 V1194 H311.2 Z" fill="#43b3f5"/>
<text x="176.4" y="1286.6" font-size="35.4" fill="#43b3f5" textLength="172" lengthAdjust="spacing">TENERIFE</text>
</g>
<g id="islas">
<text x="571" y="1217.6" font-size="42.6" font-weight="700" fill="#3fa8f4" textLength="94.5" lengthAdjust="spacingAndGlyphs">Islas</text>
<text x="479" y="1251.6" font-size="41" font-weight="700" fill="#3fa8f4" textLength="186.5" lengthAdjust="spacingAndGlyphs">Canarias</text>
<ellipse cx="706.6" cy="1201" rx="15.4" ry="6.8" transform="rotate(-80 706.6 1201)" fill="url(#gPetal)"/>
<ellipse cx="731" cy="1201.4" rx="19.6" ry="10.4" transform="rotate(-43 731 1201.4)" fill="url(#gPetal)"/>
<ellipse cx="731" cy="1224.6" rx="8" ry="5.2" transform="rotate(-8 731 1224.6)" fill="url(#gPetal)"/>
<ellipse cx="734" cy="1243.8" rx="17.2" ry="7.4" transform="rotate(40 734 1243.8)" fill="url(#gPetal)"/>
<ellipse cx="707.6" cy="1243.6" rx="12" ry="7.2" transform="rotate(76 707.6 1243.6)" fill="url(#gPetal)"/>
<ellipse cx="688.6" cy="1239" rx="18.6" ry="8.8" transform="rotate(-27 688.6 1239)" fill="url(#gPetal)"/>
<ellipse cx="690.6" cy="1213.6" rx="15" ry="7.4" transform="rotate(28 690.6 1213.6)" fill="url(#gPetal)"/>
<text x="552" y="1279.8" font-size="17.6" fill="#e8411c" stroke="#e8411c" stroke-width=".5" textLength="113" lengthAdjust="spacingAndGlyphs">LATITUD DE VIDA</text>
</g>
<g id="tfe2">
<text x="853" y="1263.6" font-size="55" font-weight="700" fill="url(#gTfe)" stroke="url(#gTfe)" stroke-width="2.4" stroke-linejoin="round" textLength="213" lengthAdjust="spacingAndGlyphs">tenerife</text>
<path d="M1072.6,1264.8 Q1068.6,1236 1073,1227 Q1078,1217.4 1087,1218 Q1096.6,1219.6 1096.4,1230 Q1095,1240 1078.6,1265.6 Q1075,1268.4 1072.6,1264.8 Z" fill="#5fe2bd"/>
<circle cx="1074" cy="1276" r="4.9" fill="#5fe2bd"/>
<text x="858.5" y="1280.8" font-size="15.8" font-style="italic" fill="url(#gTfe)" textLength="206" lengthAdjust="spacing">despierta emociones</text>
</g>
<g id="gobcan">
<path d="M1198.6,1245.4 Q1197.6,1241 1199.4,1238.6 Q1194.6,1234 1197.6,1229.6 Q1201,1225.6 1207,1228 Q1209,1225.6 1211.8,1225.6 Q1214.6,1225.6 1216.6,1228 Q1222.6,1225.6 1226,1229.6 Q1229,1234 1224.2,1238.6 Q1226,1241 1225,1245.4 Q1211.8,1241.6 1198.6,1245.4 Z" fill="#f4b223"/>
<path d="M1211.8,1220 V1226 M1209.4,1222.2 H1214.2" stroke="#f4b223" stroke-width="1.3"/>
<path d="M1200.4,1236 Q1211.8,1232.6 1223.2,1236 L1222.6,1238.6 Q1211.8,1235.6 1201,1238.6 Z" fill="#fff" opacity=".85"/>
<path d="M1195.6,1249.4 Q1195.6,1247.4 1197.6,1247.4 H1225.6 Q1227.6,1247.4 1227.6,1249.4 V1276.4 L1223,1279 L1211.6,1282.8 L1200.2,1279 L1195.6,1276.4 Z" fill="#2566df"/>
<path d="M1200.6,1256.8 L1204.6,1252.3999999999999 L1208.6,1256.8 Z" fill="#fff"/>
<path d="M1214.6,1256.8 L1218.6,1252.3999999999999 L1222.6,1256.8 Z" fill="#fff"/>
<path d="M1200.6,1264.6000000000001 L1204.6,1260.2 L1208.6,1264.6000000000001 Z" fill="#fff"/>
<path d="M1214.6,1264.6000000000001 L1218.6,1260.2 L1222.6,1264.6000000000001 Z" fill="#fff"/>
<path d="M1200.6,1272.4 L1204.6,1268.0 L1208.6,1272.4 Z" fill="#fff"/>
<path d="M1214.6,1272.4 L1218.6,1268.0 L1222.6,1272.4 Z" fill="#fff"/>
<path d="M1207.6,1279.8 L1211.6,1275.3999999999999 L1215.6,1279.8 Z" fill="#fff"/>
<text x="1235" y="1259.2" class="gob" textLength="78.5" lengthAdjust="spacingAndGlyphs">Gobierno</text>
<text x="1235" y="1275.8" class="gob" textLength="95.5" lengthAdjust="spacingAndGlyphs">de Canarias</text>
</g>
<g id="vilaflor">
<path d="M1487.6,1203.6 Q1482.4,1196 1486.6,1192.6 Q1491,1190.2 1494.6,1194.6 Q1496,1190 1498.4,1190 Q1500.8,1190 1502.2,1194.6 Q1505.8,1190.2 1510.2,1192.6 Q1514.4,1196 1509.2,1203.6 Q1498.4,1200.6 1487.6,1203.6 Z" fill="none" stroke="#f3c21b" stroke-width="2"/>
<path d="M1487.4,1204.4 Q1498.4,1201.4 1509.4,1204.4" fill="none" stroke="#f3c21b" stroke-width="2.4"/>
<path d="M1498.4,1187.4 V1190" stroke="#f3c21b" stroke-width="1.4"/>
<rect x="1478.2" y="1209.3" width="18.6" height="18.2" fill="#de2a2a"/>
<rect x="1499.7" y="1209.3" width="18.6" height="18.2" fill="#b4b9b9"/>
<path d="M1501.4,1217.6 Q1505,1213.6 1510,1213.6 Q1514.6,1213.8 1516.6,1216 V1219.6 H1501.4 Z" fill="#fff" opacity=".9"/>
<path d="M1478.2,1230.4 H1496.8 V1254.4 Q1478.2,1252 1478.2,1238 Z" fill="#f3c327"/>
<path d="M1499.7,1230.4 H1518.3 V1238 Q1518.3,1252 1499.7,1254.4 Z" fill="#d9dcdc"/>
<path d="M1487.5,1234.6 L1491.6,1240 L1489.6,1240 L1493,1245 L1488.6,1245 V1248 H1486.4 V1245 L1482,1245 L1485.4,1240 L1483.4,1240 Z" fill="none" stroke="#6fae2c" stroke-width="1"/>
<ellipse cx="1509" cy="1242" rx="3" ry="4.4" fill="none" stroke="#6fae2c" stroke-width="1"/><path d="M1509,1234.4 V1238" stroke="#6fae2c" stroke-width=".9"/>
<path d="M1483.6,1224.4 L1491.4,1216.4 M1491.4,1224.4 L1483.6,1216.4" stroke="#fff" stroke-width="1"/><circle cx="1487.5" cy="1214.6" r="2" fill="none" stroke="#fff" stroke-width="1"/>
<text x="1498.6" y="1264.4" text-anchor="middle" font-size="9.8" fill="#222" textLength="56.5" lengthAdjust="spacingAndGlyphs">Ayuntamiento</text>
<text x="1498.4" y="1278.7" text-anchor="middle" font-size="13.8" font-weight="700" fill="#161616" stroke="#161616" stroke-width=".3" textLength="115.5" lengthAdjust="spacingAndGlyphs">Vilaflor de Chasna</text>
</g>
<g id="logitrans">
<text x="1608.4" y="1172.8" font-size="35.6" fill="#5a1848" stroke="#5a1848" stroke-width=".5" textLength="52.6" lengthAdjust="spacingAndGlyphs">logi</text>
<text x="1661.4" y="1172.8" font-size="35.6" fill="#7ba1a9" stroke="#7ba1a9" stroke-width=".5" textLength="82.6" lengthAdjust="spacingAndGlyphs">trans</text>
<text x="1671.8" y="1182.9" font-size="10.9" fill="#6a2454" textLength="72.4" lengthAdjust="spacing">canarias</text>
</g>
<g id="bioracer">
<text x="1806.4" y="1175" class="bior" textLength="34.6" lengthAdjust="spacingAndGlyphs">BIO</text>
<text x="1871" y="1175" class="bior" textLength="60.6" lengthAdjust="spacingAndGlyphs">RACER</text>
<path d="M1845.6,1153 Q1857.2,1144.6 1868.8,1153 L1870.8,1163 L1867,1163.6 L1867.6,1176.2 H1846.8 L1847.4,1163.6 L1843.6,1163 Z" fill="#fff" stroke="#111" stroke-width="1.6"/>
<path d="M1848,1156.4 H1866.4 M1847,1160.4 H1867.4 M1848.4,1166 H1866 M1848.2,1171 H1866.2 M1851.6,1150.4 V1176 M1862.8,1150.4 V1176 M1857.2,1148.4 V1152" stroke="#111" stroke-width="1" fill="none"/>
<circle cx="1857.2" cy="1153.6" r="1.7" fill="#111"/>
<path d="M1850,1157 L1857.2,1159 L1864.4,1157 M1857.2,1155 V1166.4 M1857.2,1166.4 L1853.6,1175.6 M1857.2,1166.4 L1860.8,1175.6" stroke="#111" stroke-width="1.9" fill="none"/>
<text x="1881.4" y="1187" font-size="9.9" font-weight="700" font-style="italic" fill="#f08a3c" textLength="47.4" lengthAdjust="spacingAndGlyphs">SPEEDWEAR</text>
</g>
<g id="rfec">
<path d="M1650.6,1235 Q1648.4,1228 1650,1224.4 Q1651.6,1219.6 1656,1220.2 Q1663.4,1221.2 1669,1226.4 Q1675.6,1233 1679,1243 Q1682,1251 1682,1257 Q1679.4,1255.6 1678,1250 Q1675,1240.6 1669.4,1234 Q1663.4,1227.4 1657.6,1226 Q1653.4,1225.6 1652,1229 Q1651,1232 1650.6,1235 Z" fill="url(#gRFEC)"/>
<path d="M1676.4,1232.6 Q1677.4,1226.6 1683,1224 Q1689.6,1221.2 1697.4,1222.6 Q1707,1224.6 1715.6,1230 Q1721.6,1234 1722.6,1238.8 Q1716,1235.2 1708.6,1232.6 Q1700.6,1230 1693,1230.2 Q1686.4,1230.4 1682,1233.2 Q1679,1234.2 1676.4,1232.6 Z" fill="url(#gRFEC2)"/>
<path d="M1684.6,1233.6 Q1692,1236 1698.6,1243 Q1705.6,1250.6 1712.6,1254.4 Q1719.6,1257.4 1724.6,1255.4 Q1727.6,1253.4 1726.6,1250 Q1725,1246.6 1720.4,1244 Q1726.6,1245.4 1728.6,1250 Q1730,1255 1725,1258.4 Q1718,1261.4 1709.4,1257 Q1701,1252.6 1695.4,1245 Q1690.6,1238.4 1684.6,1233.6 Z" fill="url(#gRFEC)"/>
<path d="M1704,1244.6 Q1714,1244.6 1724,1249.6 Q1714,1249 1704,1244.6 Z" fill="#f58a14"/>
<text x="1649.4" y="1265.3" font-size="4.7" font-weight="700" fill="#6a6a6a" textLength="79" lengthAdjust="spacing">REAL FEDERACIÓN ESPAÑOLA</text>
<text x="1649" y="1280.1" font-size="15.4" font-weight="700" fill="#e8391d" stroke="#e8391d" stroke-width=".5" textLength="78.6" lengthAdjust="spacingAndGlyphs">CICLISMO</text>
</g>
<g id="fcc">
<path d="M1771,1257.4 Q1795,1251.6 1818,1253.6 L1818.6,1261 Q1795,1259.6 1771.4,1265.4 Z" fill="#4aa0ea"/>
<path d="M1770.6,1269 Q1796,1263.6 1819,1262.6 L1819.4,1268.4 Q1796,1271.6 1771.6,1278.4 Z" fill="#f4e33c"/>
<path d="M1772,1252.4 H1784 M1812,1249 H1819 M1771,1255 H1778" stroke="#7d8a99" stroke-width=".7"/>
<ellipse cx="1782.6" cy="1260.8" rx="9.6" ry="13.6" fill="none" stroke="#111" stroke-width="2.3" stroke-dasharray="58 16" transform="rotate(25 1782.6 1260.8)"/>
<ellipse cx="1807" cy="1259.4" rx="7.8" ry="12.4" fill="none" stroke="#111" stroke-width="2.3" stroke-dasharray="50 16" transform="rotate(205 1807 1259.4)"/>
<path d="M1786.6,1232 Q1782.6,1224.4 1789,1223.6 Q1799,1223.8 1805,1231 Q1809.6,1238 1803,1242.6 Q1798,1244.6 1790,1244.6 M1784.4,1241.4 L1790,1244.6 L1796.6,1258 M1790,1244.6 Q1799.6,1247 1801,1258 L1806.6,1262 M1803,1242.6 Q1806.6,1250 1807,1259.4" fill="none" stroke="#111" stroke-width="2.1" stroke-linecap="round" stroke-linejoin="round"/>
<text x="1810.8" y="1234.7" class="fcc" textLength="50" lengthAdjust="spacingAndGlyphs">Federación</text>
<text x="1809.4" y="1244.9" class="fcc" textLength="51.4" lengthAdjust="spacingAndGlyphs">Canaria de</text>
<text x="1824.8" y="1255.3" class="fcc" textLength="36" lengthAdjust="spacingAndGlyphs">Ciclismo</text>
</g>
<g id="fict">
<path d="M1903.4,1246 Q1897.4,1243.6 1894,1248.6 Q1891.6,1254 1896.6,1256 Q1902,1256.6 1904.4,1251.6" fill="none" stroke="#3a48e2" stroke-width="1.8" stroke-linecap="round"/>
<path d="M1926.6,1241.6 Q1920.6,1239.6 1917.6,1244.6 Q1915.4,1250.4 1920.4,1252.4 Q1926,1252.8 1928.4,1247.6" fill="none" stroke="#3a48e2" stroke-width="1.8" stroke-linecap="round"/>
<path d="M1899.6,1249.6 Q1901.6,1246.6 1904.4,1247.4 M1922.6,1245.6 Q1924.6,1243 1927.4,1243.6" fill="none" stroke="#3a48e2" stroke-width="1.2"/>
<path d="M1905.6,1238 L1913,1236 L1920.6,1237.6 M1913,1236 L1917.4,1241.4 L1909,1250.6 M1917.4,1241.4 L1923,1244 M1906.4,1238.4 L1911.6,1243.6" fill="none" stroke="#f59a22" stroke-width="1.5" stroke-linecap="round" stroke-linejoin="round"/>
<ellipse cx="1924.4" cy="1234.4" rx="3.6" ry="1.9" fill="none" stroke="#f59a22" stroke-width="1.2"/>
<text x="1900.4" y="1266.7" font-size="11.4" font-weight="700" font-style="italic" fill="#3a48e2" textLength="19.4" lengthAdjust="spacingAndGlyphs">FICT</text>
</g>
</g>
</svg></body></html>
